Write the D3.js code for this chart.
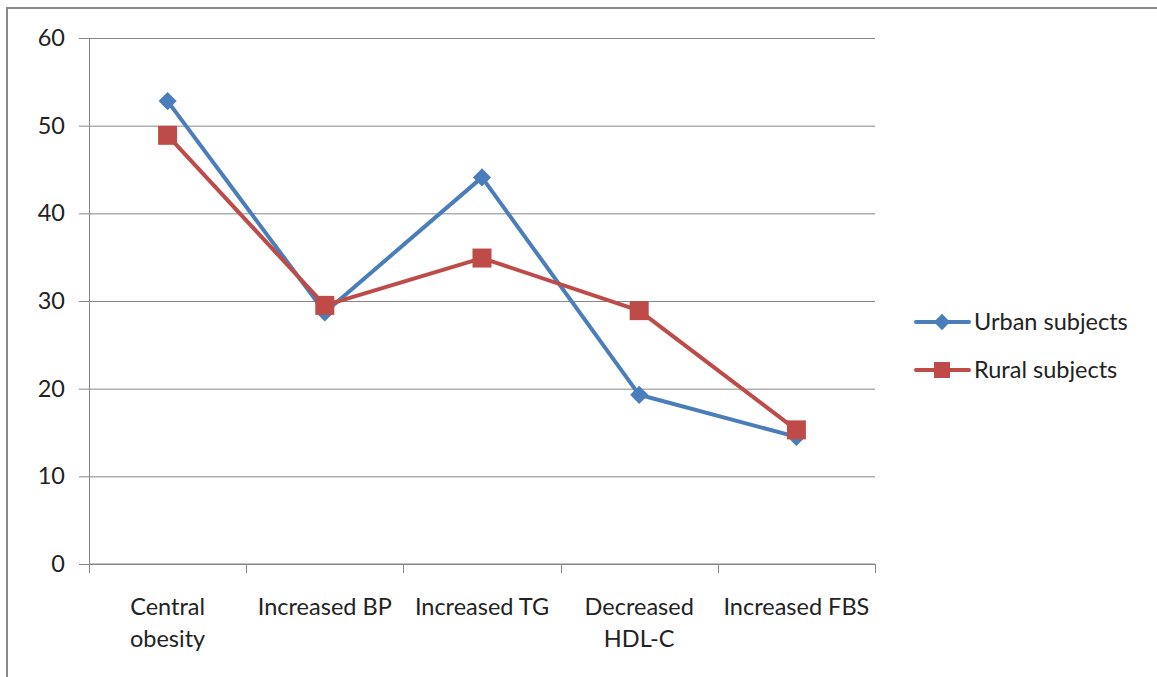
<!DOCTYPE html>
<html>
<head>
<meta charset="utf-8">
<script src="https://cdn.jsdelivr.net/npm/d3@7"></script>
<style>
  html, body { margin: 0; padding: 0; background: #fff; }
  svg { display: block; font-family: Lato, "Open Sans", "Liberation Sans", sans-serif; }
</style>
</head>
<body>
<svg id="chart" width="1157" height="677"></svg>
<script>
// Prevalence of metabolic syndrome components (%)
const categories = ["Central obesity", "Increased BP", "Increased TG", "Decreased HDL-C", "Increased FBS"];
const categoryLines = [["Central", "obesity"], ["Increased BP"], ["Increased TG"], ["Decreased", "HDL-C"], ["Increased FBS"]];
const urbanValues = [52.8, 28.7, 44.1, 19.3, 14.5];
const ruralValues = [48.9, 29.5, 34.9, 28.9, 15.3];
const yTicks = [0, 10, 20, 30, 40, 50, 60];
const seriesNames = ["Urban subjects", "Rural subjects"];

const svg = d3.select("#chart");
const plot = { left: 89, right: 875, top: 38, bottom: 564 };
const blue = "#4a7ebb", red = "#be4b48", grid = "#878787", textColor = "#222";
const fontSize = 23.5;

// frame: top and left edges
svg.append("line").attr("x1", 7).attr("x2", 1157).attr("y1", 8).attr("y2", 8)
  .attr("stroke", "#8a8a8a").attr("stroke-width", 2);
svg.append("line").attr("x1", 7).attr("x2", 7).attr("y1", 7).attr("y2", 677)
  .attr("stroke", "#8a8a8a").attr("stroke-width", 2);

const x = d3.scaleBand().domain(categories).range([plot.left, plot.right]);
const y = d3.scaleLinear().domain([0, 60]).range([plot.bottom, plot.top]);

// horizontal gridlines + y ticks
const yAxis = d3.axisLeft(y).tickValues(yTicks).tickSize(10).tickPadding(14);
const gy = svg.append("g").attr("transform", `translate(${plot.left},0)`).call(yAxis);
gy.select(".domain").attr("stroke", grid);
gy.selectAll(".tick line").attr("stroke", grid).attr("x2", plot.right - plot.left).attr("x1", -10);
gy.selectAll(".tick text").attr("font-size", fontSize).attr("fill", textColor)
  .attr("font-family", "Lato, 'Open Sans', sans-serif");

// x axis: boundary ticks between categories
const gx = svg.append("g");
gx.append("line").attr("x1", plot.left).attr("x2", plot.right)
  .attr("y1", y(0)).attr("y2", y(0)).attr("stroke", grid);
const bounds = categories.map(c => x(c)).concat([x(categories[categories.length - 1]) + x.bandwidth()]);
gx.selectAll(".bt").data(bounds).join("line")
  .attr("x1", d => Math.round(d) + 0.5).attr("x2", d => Math.round(d) + 0.5)
  .attr("y1", y(0)).attr("y2", y(0) + 9).attr("stroke", grid);

gx.selectAll(".cl").data(categories).join("text")
  .attr("x", d => x(d) + x.bandwidth() / 2)
  .attr("y", y(0) + 51)
  .attr("text-anchor", "middle").attr("font-size", fontSize).attr("fill", textColor)
  .each(function(d, i) {
    const t = d3.select(this);
    categoryLines[i].forEach((ln, j) => {
      t.append("tspan").attr("x", x(d) + x.bandwidth() / 2).attr("dy", j === 0 ? 0 : 32).text(ln);
    });
  });

const line = d3.line().x((d, i) => x(categories[i]) + x.bandwidth() / 2).y(d => y(d));

// Urban series (drawn first), Rural on top
svg.append("path").datum(urbanValues).attr("d", line)
  .attr("fill", "none").attr("stroke", blue).attr("stroke-width", 4).attr("stroke-linejoin", "round");
const diamond = d3.symbol().type(d3.symbolDiamond2).size(210);
svg.selectAll(".um").data(urbanValues).join("path")
  .attr("d", diamond)
  .attr("transform", (d, i) => `translate(${x(categories[i]) + x.bandwidth() / 2},${y(d)})`)
  .attr("fill", blue);

svg.append("path").datum(ruralValues).attr("d", line)
  .attr("fill", "none").attr("stroke", red).attr("stroke-width", 4).attr("stroke-linejoin", "round");
const sq = 19;
svg.selectAll(".rm").data(ruralValues).join("rect")
  .attr("x", (d, i) => x(categories[i]) + x.bandwidth() / 2 - sq / 2)
  .attr("y", d => y(d) - sq / 2)
  .attr("width", sq).attr("height", sq).attr("fill", red);

// legend
const legend = svg.append("g");
const lg = [{ name: seriesNames[0], color: blue, y: 322, type: "d" }, { name: seriesNames[1], color: red, y: 370, type: "s" }];
lg.forEach(l => {
  legend.append("line").attr("x1", 916).attr("x2", 969).attr("y1", l.y).attr("y2", l.y)
    .attr("stroke", l.color).attr("stroke-width", 4).attr("stroke-linecap", "round");
  if (l.type === "d") {
    legend.append("path").attr("d", d3.symbol().type(d3.symbolDiamond2).size(170)())
      .attr("transform", `translate(942,${l.y})`).attr("fill", l.color);
  } else {
    legend.append("rect").attr("x", 942 - 8).attr("y", l.y - 8).attr("width", 16).attr("height", 16).attr("fill", l.color);
  }
  legend.append("text").attr("x", 974).attr("y", l.y + 8).attr("font-size", fontSize).attr("fill", textColor).text(l.name);
});
</script>
</body>
</html>
